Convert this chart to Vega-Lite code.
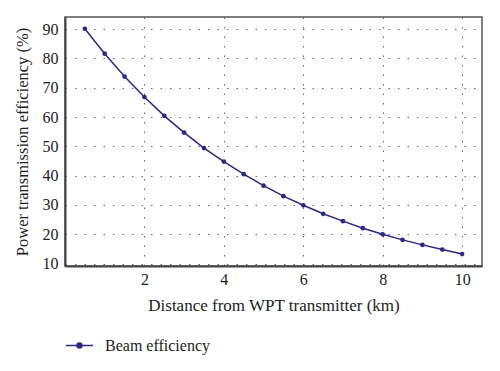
{
  "$schema": "https://vega.github.io/schema/vega-lite/v6.json",
  "width": 417,
  "height": 249,
  "autosize": {"type": "none"},
  "padding": {"left": 65, "top": 17, "right": 18, "bottom": 105},
  "background": "white",
  "config": {
    "font": "Liberation Serif",
    "view": {"stroke": "#555", "strokeWidth": 1.5},
    "axis": {
      "labelFont": "Liberation Serif",
      "titleFont": "Liberation Serif",
      "labelFontSize": 16,
      "titleFontSize": 17,
      "titleFontWeight": "normal",
      "labelColor": "#222",
      "titleColor": "#222",
      "domainColor": "#444",
      "domainWidth": 2,
      "ticks": false,
      "grid": true,
      "gridColor": "#666",
      "gridDash": [1.5, 8],
      "gridWidth": 1
    }
  },
  "data": {
    "values": [
      {"d": 0.5, "e": 90.1, "s": "Beam efficiency"},
      {"d": 1.0, "e": 81.6, "s": "Beam efficiency"},
      {"d": 1.5, "e": 73.8, "s": "Beam efficiency"},
      {"d": 2.0, "e": 66.8, "s": "Beam efficiency"},
      {"d": 2.5, "e": 60.4, "s": "Beam efficiency"},
      {"d": 3.0, "e": 54.7, "s": "Beam efficiency"},
      {"d": 3.5, "e": 49.4, "s": "Beam efficiency"},
      {"d": 4.0, "e": 44.8, "s": "Beam efficiency"},
      {"d": 4.5, "e": 40.5, "s": "Beam efficiency"},
      {"d": 5.0, "e": 36.6, "s": "Beam efficiency"},
      {"d": 5.5, "e": 33.0, "s": "Beam efficiency"},
      {"d": 6.0, "e": 29.9, "s": "Beam efficiency"},
      {"d": 6.5, "e": 27.0, "s": "Beam efficiency"},
      {"d": 7.0, "e": 24.5, "s": "Beam efficiency"},
      {"d": 7.5, "e": 22.1, "s": "Beam efficiency"},
      {"d": 8.0, "e": 20.0, "s": "Beam efficiency"},
      {"d": 8.5, "e": 18.1, "s": "Beam efficiency"},
      {"d": 9.0, "e": 16.4, "s": "Beam efficiency"},
      {"d": 9.5, "e": 14.8, "s": "Beam efficiency"},
      {"d": 10.0, "e": 13.3, "s": "Beam efficiency"}
    ]
  },
  "encoding": {
    "x": {
      "field": "d", "type": "quantitative",
      "scale": {"domain": [0, 10.5], "nice": false, "zero": false},
      "axis": {"values": [2, 4, 6, 8, 10], "title": "Distance from WPT transmitter (km)", "labelPadding": 5, "titlePadding": 10}
    },
    "y": {
      "field": "e", "type": "quantitative",
      "scale": {"domain": [9.2, 94.1], "nice": false, "zero": false},
      "axis": {"values": [10, 20, 30, 40, 50, 60, 70, 80, 90], "title": "Power transmission efficiency (%)", "titleFontSize": 16.5, "labelPadding": 7, "titlePadding": 12}
    },
    "color": {
      "field": "s", "type": "nominal",
      "scale": {"range": ["#2b2a82"]},
      "legend": {
        "title": null,
        "orient": "none",
        "legendX": 0,
        "legendY": 314,
        "direction": "vertical",
        "symbolType": "M-1,0H1M-0.18,0A0.18,0.18,0,1,1,0.18,0A0.18,0.18,0,1,1,-0.18,0",
        "symbolSize": 729,
        "symbolStrokeWidth": 1.5,
        "symbolFillColor": "#2b2a82",
        "labelFont": "Liberation Serif",
        "labelFontSize": 16,
        "labelColor": "#222",
        "labelOffset": 11
      }
    }
  },
  "layer": [
    {"mark": {"type": "line", "strokeWidth": 1.5}},
    {"mark": {"type": "point", "filled": true, "size": 22, "opacity": 1}}
  ]
}
